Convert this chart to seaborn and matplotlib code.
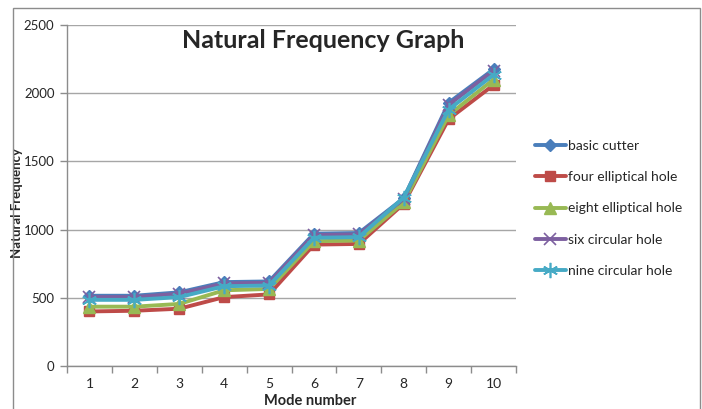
import matplotlib
matplotlib.use("Agg")
import matplotlib.pyplot as plt
import seaborn as sns
import pandas as pd
from matplotlib.patches import Rectangle
from matplotlib.ticker import FixedLocator, NullFormatter

# Natural frequency (Hz) of each cutter design for the first ten modes
modes = [1, 2, 3, 4, 5, 6, 7, 8, 9, 10]
basic_cutter = [515, 515, 540, 615, 620, 970, 975, 1230, 1930, 2175]
four_elliptical = [400, 405, 420, 505, 525, 890, 895, 1190, 1810, 2060]
eight_elliptical = [435, 435, 455, 555, 565, 915, 920, 1200, 1840, 2100]
six_circular = [505, 505, 530, 605, 610, 960, 965, 1225, 1915, 2165]
nine_circular = [485, 485, 505, 585, 590, 940, 945, 1235, 1880, 2135]

series_names = ["basic cutter", "four elliptical hole", "eight elliptical hole",
                "six circular hole", "nine circular hole"]
series_values = [basic_cutter, four_elliptical, eight_elliptical,
                 six_circular, nine_circular]

y_ticks = [0, 500, 1000, 1500, 2000, 2500]

styles = {
    "basic cutter": dict(color="#4A7EBB", marker="D", ms=6.5, mew=1.0),
    "four elliptical hole": dict(color="#BE4B48", marker="s", ms=7, mew=1.0),
    "eight elliptical hole": dict(color="#98B954", marker="^", ms=8, mew=1.0),
    "six circular hole": dict(color="#7D60A0", marker="x", ms=9, mew=1.2),
    "nine circular hole": dict(color="#46AAC5", marker=(6, 2, 0), ms=11, mew=1.2),
}

rows = []
for name, vals in zip(series_names, series_values):
    for m, v in zip(modes, vals):
        rows.append({"mode": m, "freq": v, "design": name})
df = pd.DataFrame(rows)

sns.set_theme(style="white")
plt.rcParams["font.family"] = ["Lato", "DejaVu Sans"]

fig = plt.figure(figsize=(7.02, 4.09), dpi=100)
fig.patch.set_facecolor("white")
# chart frame
fig.add_artist(Rectangle((13 / 702, -0.01), 687 / 702, 1 - 8 / 409 + 0.01,
                         transform=fig.transFigure, fill=False,
                         edgecolor="#8c8c8c", linewidth=1.0))

ax = fig.add_axes([67 / 702, 43 / 409, 449 / 702, 341 / 409])

for name in series_names:
    st = styles[name]
    sub = df[df["design"] == name]
    sns.lineplot(data=sub, x="mode", y="freq", ax=ax, color=st["color"],
                 linewidth=2.8, marker=st["marker"], markersize=st["ms"],
                 markeredgewidth=st["mew"], markeredgecolor=st["color"],
                 markerfacecolor=st["color"], label=name, zorder=3)

ax.set_xlim(0.5, 10.5)
ax.set_ylim(0, 2500)
ax.set_yticks(y_ticks)
ax.set_yticklabels([str(t) for t in y_ticks], fontsize=9.5)
ax.yaxis.grid(True, color="#a6a6a6", linewidth=1.0)
ax.set_axisbelow(True)

# category ticks sit between categories, labels centred on each category
ax.xaxis.set_major_locator(FixedLocator([m - 0.5 for m in modes] + [modes[-1] + 0.5]))
ax.xaxis.set_major_formatter(NullFormatter())
ax.xaxis.set_minor_locator(FixedLocator(modes))
ax.set_xticklabels([str(m) for m in modes], minor=True, fontsize=10)
ax.tick_params(axis="x", which="major", length=5, width=1, color="#8c8c8c",
               direction="out", bottom=True)
ax.tick_params(axis="x", which="minor", length=0, pad=9, bottom=True)
ax.tick_params(axis="y", length=5, width=1, color="#8c8c8c", direction="out",
               left=True, pad=4)

for s in ["top", "right"]:
    ax.spines[s].set_visible(False)
for s in ["left", "bottom"]:
    ax.spines[s].set_color("#8c8c8c")
    ax.spines[s].set_linewidth(1.0)

ax.set_xlabel("Mode number", fontsize=10.5, fontweight="bold")
ax.xaxis.set_label_coords(0.541, -0.083)
ax.set_ylabel("Natural Frequency", fontsize=9.5, fontweight="bold")
ax.yaxis.set_label_coords(-0.097, 0.478)

ax.text(0.57, 0.955, "Natural Frequency Graph", transform=ax.transAxes,
        ha="center", va="center", fontsize=18, fontweight="bold")

leg = ax.legend(loc="center left", bbox_to_anchor=(1.03, 0.462), frameon=False,
                fontsize=10, handlelength=2.2, labelspacing=1.38,
                handletextpad=0.2, borderaxespad=0)

fig.savefig("out.png", dpi=100)
